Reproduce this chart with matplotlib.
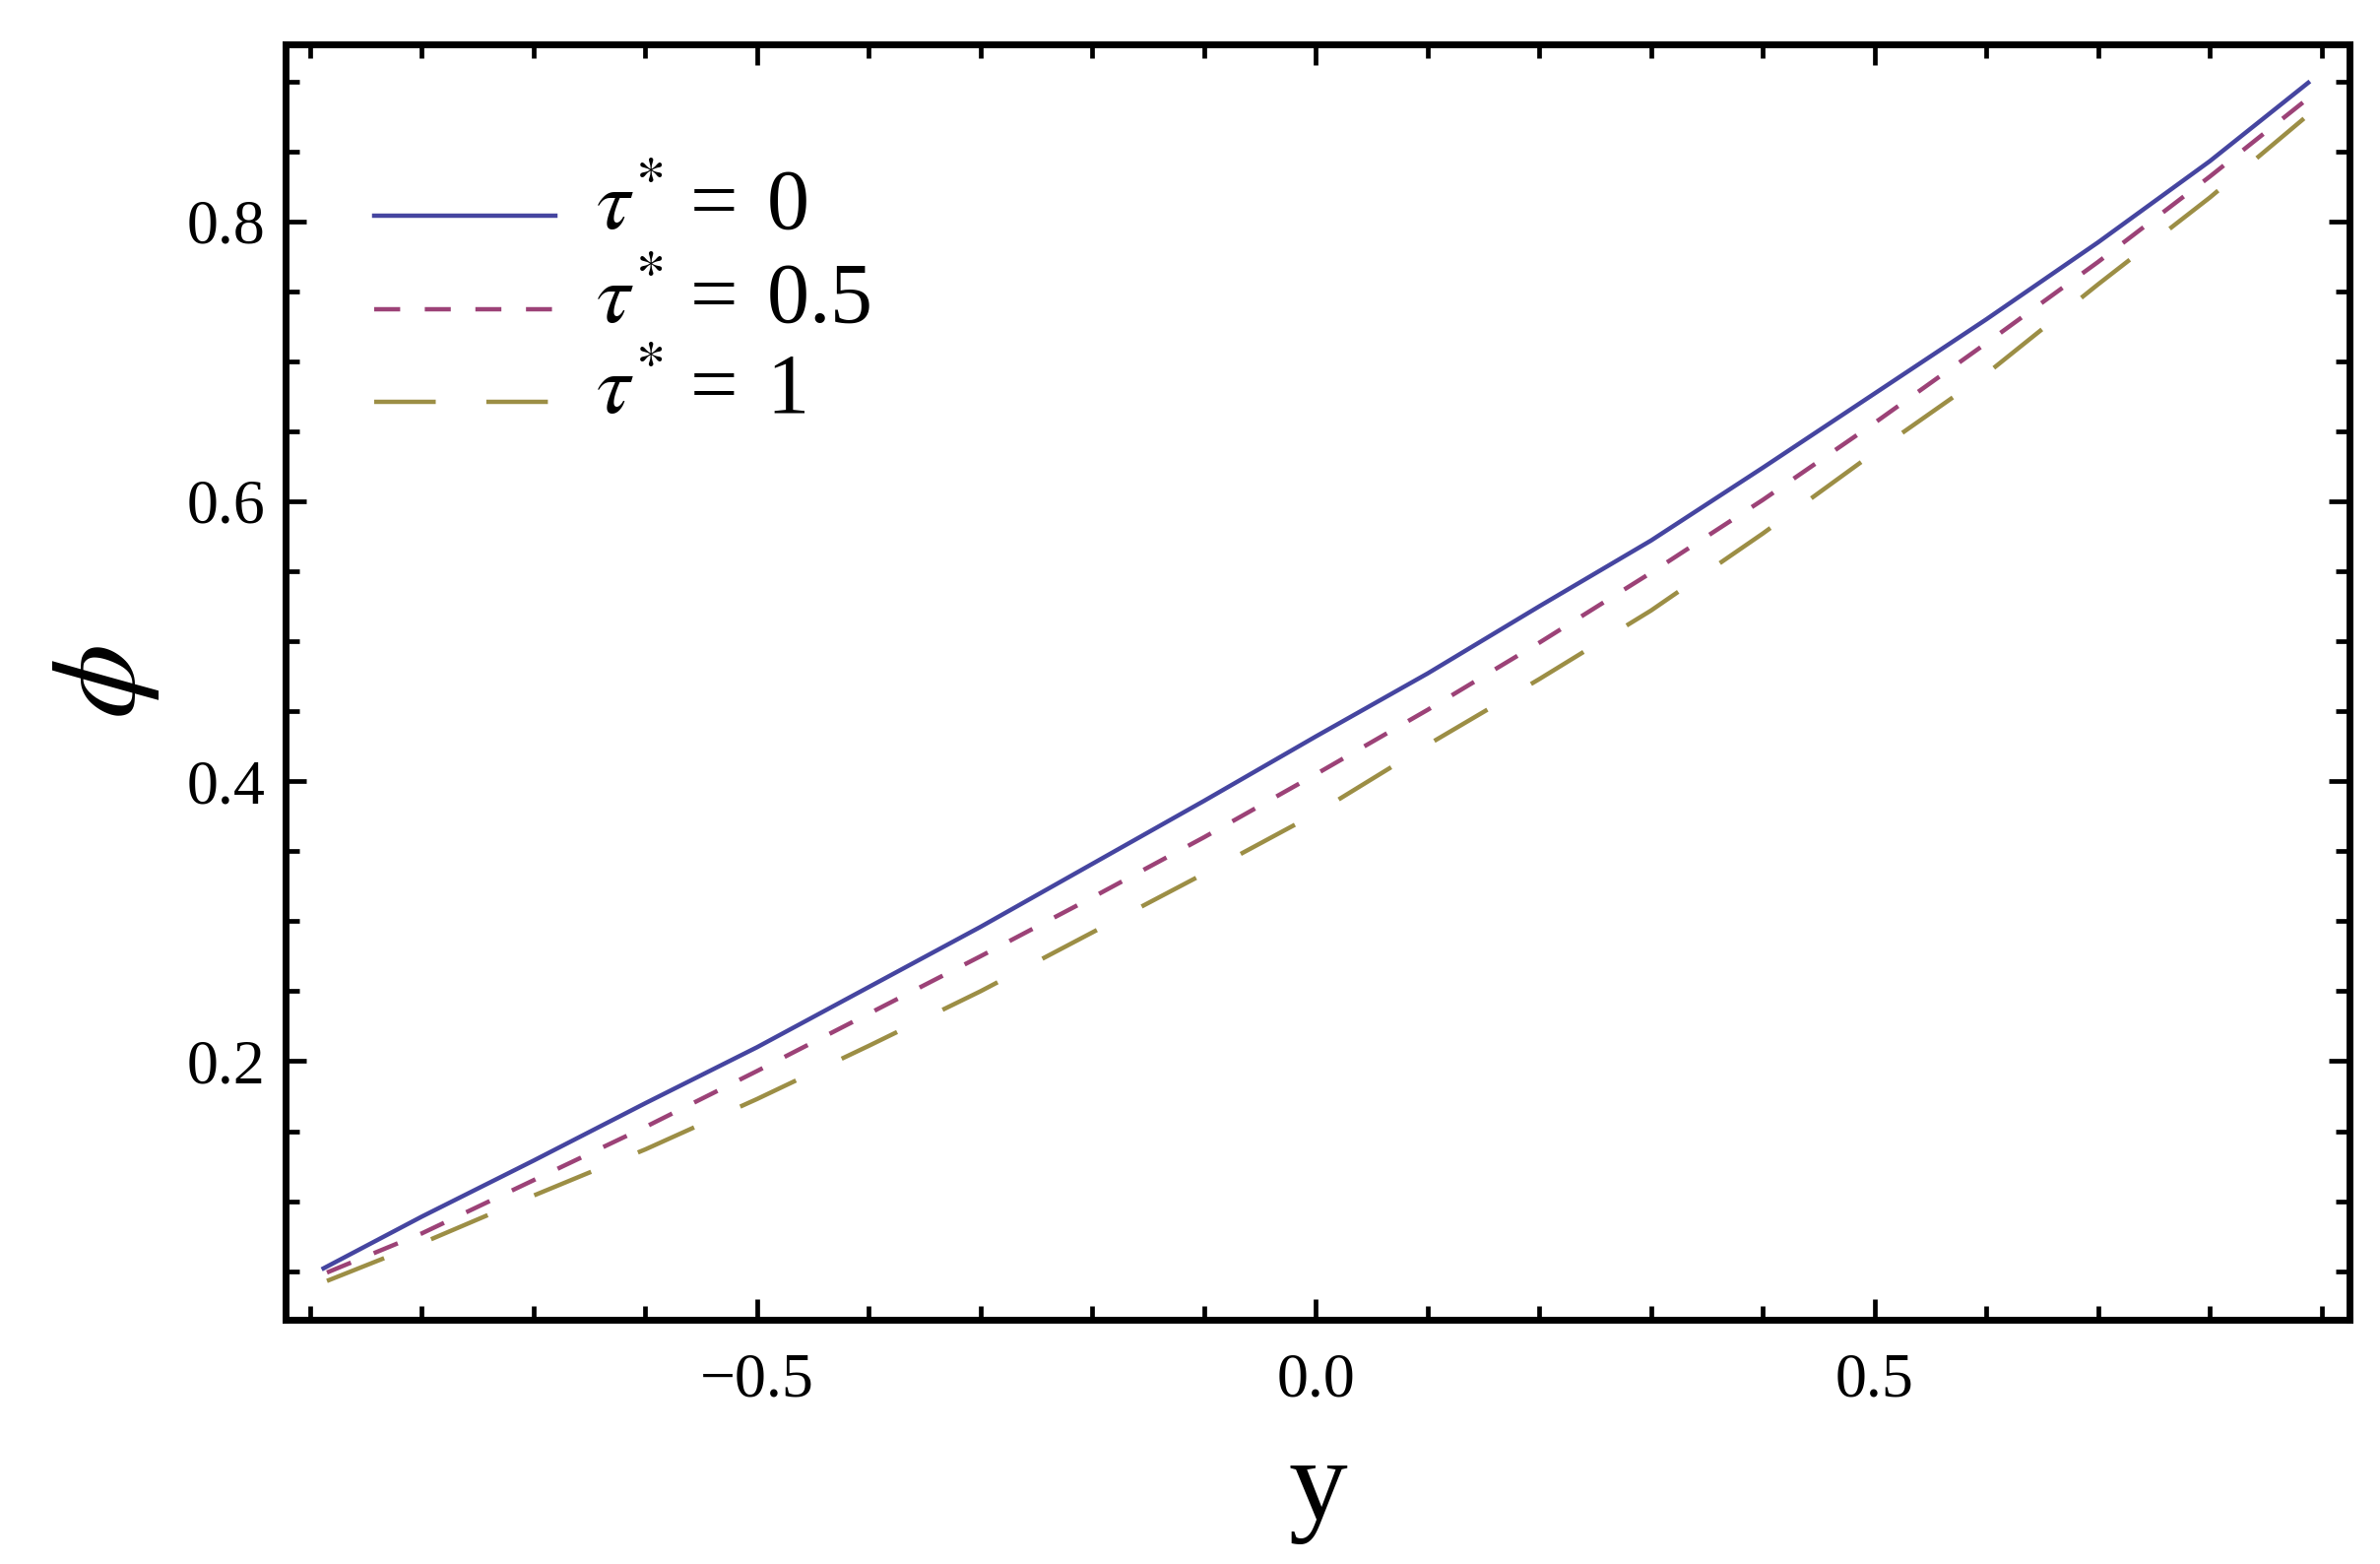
#Concentration profile phi against y for three values of tau*
#recreated from the published figure

import matplotlib
matplotlib.use("Agg")
import numpy as np
import matplotlib.pyplot as plt
from matplotlib.ticker import MultipleLocator, FixedLocator, FixedFormatter
from matplotlib.legend_handler import HandlerLine2D

plt.rcParams['font.family'] = ['Liberation Serif', 'DejaVu Serif']
plt.rcParams['mathtext.fontset'] = 'stix'
plt.rcParams['lines.scale_dashes'] = False

#values
y_tau0 = [-0.888, -0.8, -0.7, -0.6, -0.5, -0.4, -0.3, -0.2, -0.1, 0.0, 0.1, 0.2, 0.3, 0.4, 0.5, 0.6, 0.7, 0.8, 0.888]
phi_tau0 = [0.052, 0.089, 0.129, 0.170, 0.210, 0.253, 0.296, 0.341, 0.386, 0.432, 0.477, 0.525, 0.572, 0.624, 0.677, 0.730, 0.785, 0.843, 0.899]

y_tau05 = [-0.885, -0.8, -0.7, -0.6, -0.5, -0.4, -0.3, -0.2, -0.1, 0.0, 0.1, 0.2, 0.3, 0.4, 0.5, 0.6, 0.7, 0.8, 0.885]
phi_tau05 = [0.049, 0.077, 0.115, 0.153, 0.193, 0.234, 0.275, 0.317, 0.360, 0.405, 0.451, 0.499, 0.549, 0.601, 0.656, 0.713, 0.771, 0.832, 0.886]

y_tau1 = [-0.885, -0.8, -0.7, -0.6, -0.5, -0.4, -0.3, -0.2, -0.1, 0.0, 0.1, 0.2, 0.3, 0.4, 0.5, 0.6, 0.7, 0.8, 0.885]
phi_tau1 = [0.043, 0.070, 0.104, 0.137, 0.173, 0.211, 0.250, 0.292, 0.334, 0.377, 0.426, 0.473, 0.522, 0.577, 0.635, 0.691, 0.755, 0.817, 0.874]

labels = [r'$\tau^{*}$ = ' + '\u200a0', r'$\tau^{*}$ = ' + '\u200a0.5', r'$\tau^{*}$ = ' + '\u200a1']
colors = ['#4545a0', '#9c4277', '#9c8e45']

x_major = [-0.5, 0.0, 0.5]
x_major_labels = ['\u22120.5', '0.0', '0.5']
y_major = [0.2, 0.4, 0.6, 0.8]
y_major_labels = ['0.2', '0.4', '0.6', '0.8']


class LowLine(HandlerLine2D):			#legend line sits near the text baseline, as in the original
	def create_artists(self, legend, orig_handle, xdescent, ydescent, width, height, fontsize, trans):
		artists = super().create_artists(legend, orig_handle, xdescent, ydescent, width, height, fontsize, trans)
		for a in artists:
			a.set_ydata(np.asarray(a.get_ydata()) - 0.2 * fontsize)
		return artists


fig = plt.figure(figsize=(24.17, 15.88), dpi=100)
ax = fig.add_axes([0.120, 0.1562, 0.8672, 0.8155])

ax.plot(y_tau0, phi_tau0, color=colors[0], lw=3.2, label=labels[0])
ax.plot(y_tau05, phi_tau05, color=colors[1], lw=3.2, dashes=(19, 18), label=labels[1])
ax.plot(y_tau1, phi_tau1, color=colors[2], lw=3.2, dashes=(45, 37), label=labels[2])

ax.set_xlim(-0.922, 0.925)
ax.set_ylim(0.0153, 0.9265)

ax.xaxis.set_major_locator(FixedLocator(x_major))
ax.xaxis.set_major_formatter(FixedFormatter(x_major_labels))
ax.xaxis.set_minor_locator(MultipleLocator(0.1))
ax.yaxis.set_major_locator(FixedLocator(y_major))
ax.yaxis.set_major_formatter(FixedFormatter(y_major_labels))
ax.yaxis.set_minor_locator(MultipleLocator(0.05))

ax.tick_params(which='both', direction='in', top=True, right=True, color='black')
ax.tick_params(which='major', length=15, width=3.4, labelsize=46)
ax.tick_params(which='minor', length=10, width=3.4)
ax.tick_params(axis='x', which='major', pad=24)
ax.tick_params(axis='y', which='major', pad=15)

for side in ax.spines.values():
	side.set_linewidth(5)
	side.set_color('black')

ax.set_xlabel('y', fontsize=86)
ax.xaxis.set_label_coords(0.5, -0.093)
ax.set_ylabel(r'$\phi$', fontsize=88, rotation=90, va='center')
ax.yaxis.set_label_coords(-0.087, 0.5)

ax.legend(loc='upper left', bbox_to_anchor=(0.043, 0.902), frameon=False, fontsize=62,
	borderpad=0, borderaxespad=0, handlelength=2.13, handletextpad=0.48, labelspacing=0.17,
	handler_map={matplotlib.lines.Line2D: LowLine()})

plt.savefig('out.png', dpi=100)
